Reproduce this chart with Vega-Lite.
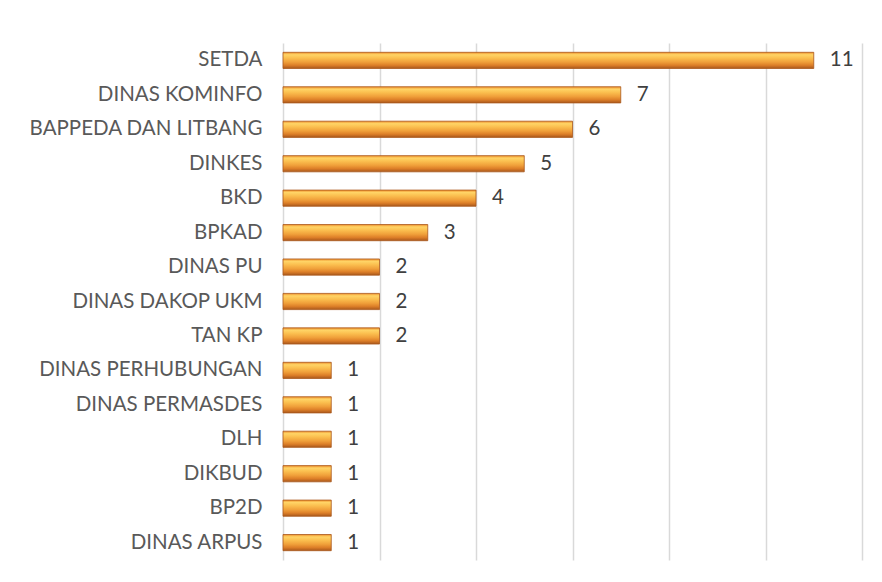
{
  "$schema": "https://vega.github.io/schema/vega-lite/v6.json",
  "width": 579,
  "height": 517,
  "autosize": {"type": "none"},
  "padding": {"left": 283, "top": 43, "right": 20, "bottom": 22},
  "background": "white",
  "config": {"view": {"stroke": null}, "font": "Lato"},
  "data": {
    "values": [
      {"unit": "SETDA", "count": 11},
      {"unit": "DINAS KOMINFO", "count": 7},
      {"unit": "BAPPEDA DAN LITBANG", "count": 6},
      {"unit": "DINKES", "count": 5},
      {"unit": "BKD", "count": 4},
      {"unit": "BPKAD", "count": 3},
      {"unit": "DINAS PU", "count": 2},
      {"unit": "DINAS DAKOP UKM", "count": 2},
      {"unit": "TAN KP", "count": 2},
      {"unit": "DINAS PERHUBUNGAN", "count": 1},
      {"unit": "DINAS PERMASDES", "count": 1},
      {"unit": "DLH", "count": 1},
      {"unit": "DIKBUD", "count": 1},
      {"unit": "BP2D", "count": 1},
      {"unit": "DINAS ARPUS", "count": 1}
    ]
  },
  "encoding": {
    "y": {
      "field": "unit", "type": "nominal", "sort": null,
      "scale": {"paddingInner": 0.53, "paddingOuter": 0.27},
      "axis": {"title": null, "ticks": false, "domain": false, "labelFontSize": 20.5, "labelColor": "#595959", "labelPadding": 21, "labelFont": "Lato", "labelLimit": 300}
    },
    "x": {
      "field": "count", "type": "quantitative",
      "scale": {"domain": [0, 12], "nice": false},
      "axis": {"title": null, "values": [0, 2, 4, 6, 8, 10, 12], "labels": false, "ticks": false, "domain": false, "grid": true, "gridColor": "#d9d9d9", "gridWidth": 1.5}
    }
  },
  "layer": [
    {
      "mark": {
        "type": "bar",
        "stroke": "#a9581c",
        "strokeWidth": 0.8,
        "fill": {
          "gradient": "linear", "x1": 0, "y1": 0, "x2": 0, "y2": 1,
          "stops": [
            {"offset": 0, "color": "#ee8f2c"},
            {"offset": 0.15, "color": "#ffd466"},
            {"offset": 0.35, "color": "#fbbf4f"},
            {"offset": 0.6, "color": "#f0a03a"},
            {"offset": 0.8, "color": "#dd7f28"},
            {"offset": 1, "color": "#a9581c"}
          ]
        }
      }
    },
    {
      "mark": {"type": "text", "align": "left", "dx": 16, "fontSize": 20.5, "color": "#404040", "font": "Lato"},
      "encoding": {"text": {"field": "count", "type": "quantitative"}}
    }
  ]
}
